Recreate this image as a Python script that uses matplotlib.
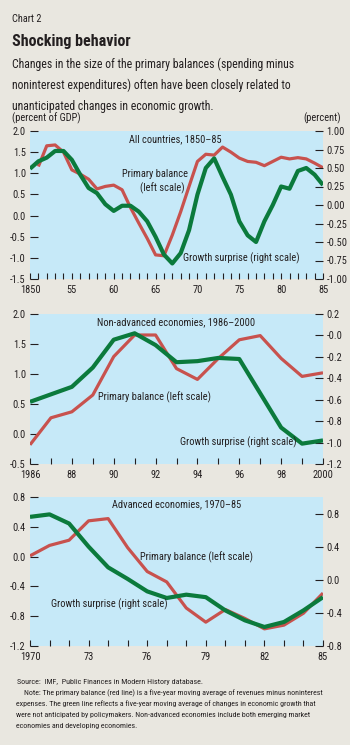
import matplotlib
matplotlib.use('Agg')
import matplotlib.pyplot as plt
from matplotlib import font_manager

# ---- data ----
years_all = list(range(1850, 1886))
pb_all = [None, 1.16, 1.65, 1.67, 1.50, 1.08, 0.98, 0.86, 0.63, 0.69, 0.72,
          0.61, 0.19, -0.18, -0.54, -0.93, -0.95, -0.46, 0.09, 0.69, 1.28,
          1.45, 1.43, 1.62, 1.50, 1.36, 1.28, 1.26, 1.18, 1.28, 1.38,
          1.34, 1.37, 1.34, 1.24, 1.13]
gs_all = [0.49, 0.59, 0.64, 0.73, 0.73, 0.61, 0.41, 0.23, 0.16, 0.01, -0.08,
          -0.01, -0.01, -0.09, -0.22, -0.43, -0.67, -0.79, -0.65, -0.34, 0.14,
          0.50, 0.63, 0.38, 0.14, -0.22, -0.41, -0.50, -0.22, 0.00, 0.25,
          0.22, 0.46, 0.50, 0.41, 0.27]

years_na = list(range(1986, 2001))
pb_na = [-0.18, 0.27, 0.37, 0.65, 1.29, 1.65, 1.65, 1.09, 0.91, 1.26, 1.57,
         1.64, 1.26, 0.96, 1.02]
gs_na = [-0.62, -0.55, -0.48, -0.30, -0.04, 0.02, -0.09, -0.25, -0.24, -0.21,
         -0.22, -0.54, -0.86, -1.01, -0.98]

years_adv = list(range(1970, 1986))
pb_adv = [0.01, 0.15, 0.22, 0.48, 0.51, 0.12, -0.20, -0.34, -0.69, -0.88,
          -0.71, -0.83, -0.97, -0.92, -0.76, -0.49]
gs_adv = [0.76, 0.79, 0.68, 0.40, 0.15, 0.01, -0.14, -0.22, -0.18, -0.21,
          -0.37, -0.49, -0.57, -0.51, -0.37, -0.21]

xt_all = [1850, 1855, 1860, 1865, 1870, 1875, 1880, 1885]
xl_all = ['1850', '55', '60', '65', '70', '75', '80', '85']
yl_all = [2.0, 1.5, 1.0, 0.5, 0.0, -0.5, -1.0, -1.5]
yr_all = [1.00, 0.75, 0.50, 0.25, 0.00, -0.25, -0.50, -0.75, -1.00]

xt_na = [1986, 1988, 1990, 1992, 1994, 1996, 1998, 2000]
xl_na = ['1986', '88', '90', '92', '94', '96', '98', '2000']
yl_na = [2.0, 1.5, 1.0, 0.5, 0.0, -0.5]
yr_na = [0.2, 0.0, -0.2, -0.4, -0.6, -0.8, -1.0, -1.2]
yr_na_lab = ['0.2', '-0.0', '-0.2', '-0.4', '-0.6', '-0.8', '-1.0', '-1.2']

xt_adv = [1970, 1973, 1976, 1979, 1982, 1985]
xl_adv = ['1970', '73', '76', '79', '82', '85']
yl_adv = [0.8, 0.4, 0.0, -0.4, -0.8, -1.2]
yr_adv = [0.8, 0.4, 0.0, -0.4, -0.8]

# ---- style ----
names = {f.name for f in font_manager.fontManager.ttflist}
FONT = next((n for n in ['Liberation Sans Narrow', 'Roboto Condensed',
                         'Open Sans Condensed'] if n in names), None)
if FONT is None:
    FONT = 'DejaVu Sans'
    plt.rcParams['font.stretch'] = 'condensed'
plt.rcParams['font.family'] = [FONT, 'DejaVu Sans']

BG = '#E9E7E0'
PANEL = '#C6E9F8'
RED = '#C8524E'
GREEN = '#0B7A3C'
INK = '#231F20'
TICK = 7.5


def panel(rect, x, pb, gs, xlim, ylim_l, ylim_r, xt, xl, yl, yr, yr_lab=None):
    ax = fig.add_axes(rect)
    ax.set_facecolor(PANEL)
    ax2 = ax.twinx()
    for a in (ax, ax2):
        for s in a.spines.values():
            s.set_visible(False)
    ax.plot(x, [float('nan') if v is None else v for v in pb],
            color=RED, lw=2.3, solid_capstyle='butt', zorder=3)
    ax2.plot(x, gs, color=GREEN, lw=3.0, solid_capstyle='butt', zorder=3)
    ax.set_xlim(*xlim)
    ax.set_ylim(*ylim_l)
    ax2.set_ylim(*ylim_r)
    ax.set_xticks(xt)
    ax.set_xticklabels(xl)
    ax.set_xticks(range(xlim[0], xlim[1] + 1), minor=True)
    ax.set_yticks(yl)
    ax.set_yticklabels([f'{v:.1f}' for v in yl])
    ax2.set_yticks(yr)
    ax2.set_yticklabels(yr_lab if yr_lab else [f'{v:.2f}' if len(yr) > 8 else f'{v:.1f}' for v in yr])
    ax.tick_params(axis='x', which='both', direction='in', length=4,
                   width=0.8, color=INK, labelsize=TICK, labelcolor=INK, pad=4)
    ax.tick_params(axis='y', direction='in', length=6, width=0.8,
                   color=INK, labelsize=TICK, labelcolor=INK, pad=3)
    ax2.tick_params(axis='y', direction='in', length=6, width=0.8,
                    color=INK, labelsize=TICK, labelcolor=INK, pad=2.5)
    return ax, ax2


fig = plt.figure(figsize=(3.5, 7.45), dpi=100, facecolor=BG)
W, H = 350.0, 745.0


def ftext(x, y, s, **kw):
    fig.text(x / W, 1 - y / H, s, va='baseline', color=INK, **kw)


ftext(12, 22, 'Chart 2', fontsize=7.5)
ftext(12, 46, 'Shocking behavior', fontsize=11.5, fontweight='bold')
sub = ['Changes in the size of the primary balances (spending minus',
       'noninterest expenditures) often have been closely related to',
       'unanticipated changes in economic growth.']
for i, line in enumerate(sub):
    ftext(12, 68 + 21 * i, line, fontsize=8.5)
ftext(12, 121, '(percent of GDP)', fontsize=7.5)
ftext(341, 121, '(percent)', fontsize=7.5, ha='right')

l, w = 30 / W, 293 / W
ax1, ax1r = panel([l, 1 - 279 / H, w, 148 / H], years_all, pb_all, gs_all,
                  (1850, 1885), (-1.5, 2.0), (-1.0, 1.0),
                  xt_all, xl_all, yl_all, yr_all)
ax2_, ax2r = panel([l, 1 - 464 / H, w, 150 / H], years_na, pb_na, gs_na,
                   (1986, 2000), (-0.5, 2.0), (-1.2, 0.2),
                   xt_na, xl_na, yl_na, yr_na, yr_na_lab)
ax3, ax3r = panel([l, 1 - 646 / H, w, 149 / H], years_adv, pb_adv, gs_adv,
                  (1970, 1985), (-1.2, 0.8), (-0.8, 1.0),
                  xt_adv, xl_adv, yl_adv, yr_adv)


def atext(y, x, s, **kw):
    fig.text(x / W, 1 - y / H, s, va='center', color=INK, fontsize=7.5, **kw)


atext(139, 175, 'All countries, 1850\u201385', ha='center')
atext(174, 155, 'Primary balance', ha='center')
atext(188, 162, '(left scale)', ha='center')
atext(258, 183, 'Growth surprise (right scale)', ha='left')

atext(322, 176, 'Non-advanced economies, 1986\u20132000', ha='center')
atext(397, 98, 'Primary balance (left scale)', ha='left')
atext(442, 180, 'Growth surprise (right scale)', ha='left')

atext(504, 177, 'Advanced economies, 1970\u201385', ha='center')
atext(557, 140, 'Primary balance (left scale)', ha='left')
atext(604, 51, 'Growth surprise (right scale)', ha='left')

ftext(17, 684, 'Source:  IMF,  Public Finances in Modern History database.',
      fontsize=5.8)
note = ['Note: The primary balance (red line) is a five-year moving average of revenues minus noninterest',
        'expenses. The green line reflects a five-year moving average of changes in economic growth that',
        'were not anticipated by policymakers. Non-advanced economies include both emerging market',
        'economies and developing economies.']
for i, line in enumerate(note):
    ftext(24 if i == 0 else 16, 695 + 11 * i, line, fontsize=5.7)

fig.savefig('out.png', dpi=100, facecolor=BG)
